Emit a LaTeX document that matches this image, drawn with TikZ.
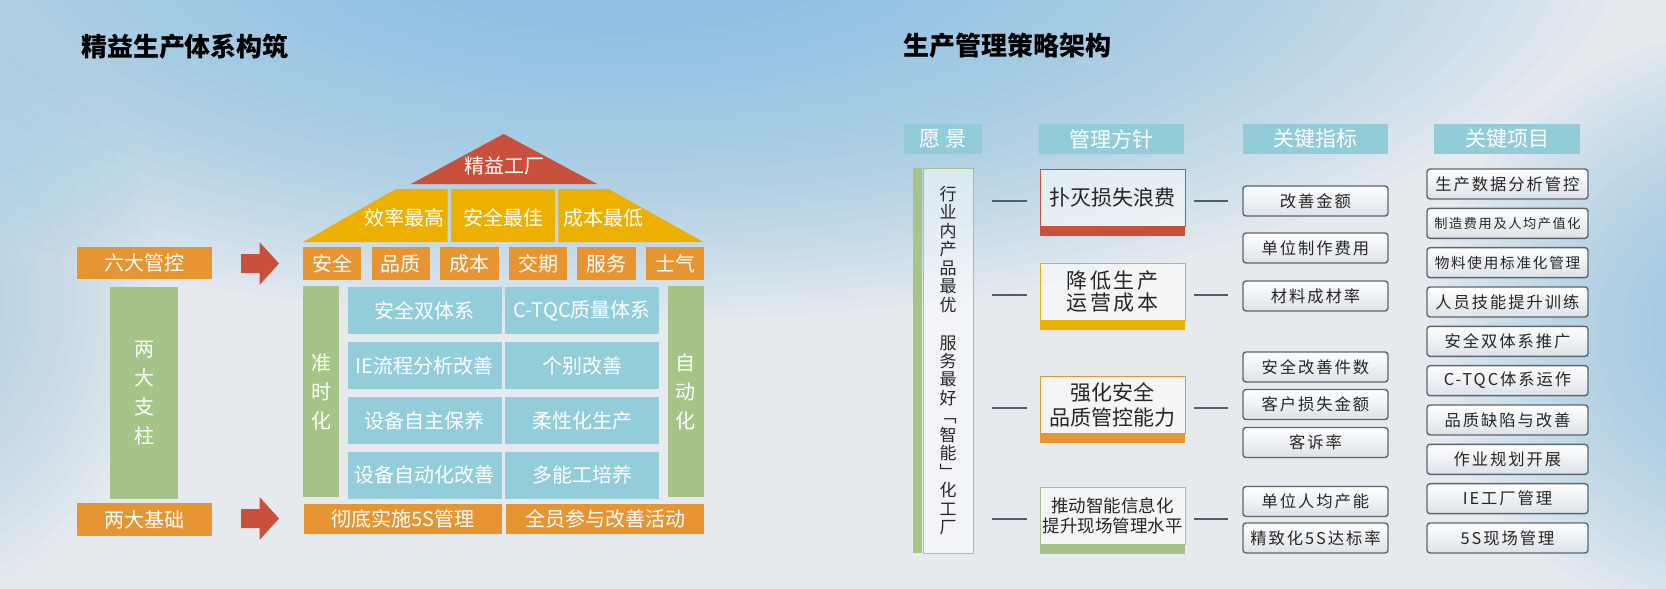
\documentclass[tikz,border=0pt]{standalone}
\usepackage{fontspec}
\setmainfont{Noto Sans CJK SC}
\newfontfamily\spacedcjk[LetterSpace=12]{Noto Sans CJK SC}
\usetikzlibrary{positioning}

\newdimen\upx
\upx=0.5pt

\definecolor{bgbase}{HTML}{E6EAEF}
\definecolor{skyglow}{HTML}{79BBE4}
\definecolor{roofred}{HTML}{C9503A}
\definecolor{roofgold}{HTML}{EEB000}
\definecolor{boxorange}{HTML}{E69532}
\definecolor{leafgreen}{HTML}{A6C487}
\definecolor{skyteal}{HTML}{93CDDA}
\definecolor{headteal}{HTML}{92CCD8}
\definecolor{linkgray}{HTML}{4F5F66}
\definecolor{framegray}{HTML}{5B666E}
\definecolor{metricbot}{HTML}{DDE2E8}
\definecolor{inktext}{HTML}{262626}

\newcommand\housefont{\fontsize{10}{14.5}\selectfont}
\newcommand\titlefont{\bfseries\fontsize{13}{15}\selectfont}
\newcommand\headfont{\fontsize{10.5}{12}\selectfont}
\newcommand\policyfont{\fontsize{10.5}{12.5}\selectfont}
\newcommand\visionfont{\fontsize{8.5}{9.25}\selectfont}
\newcommand\metricfont{\spacedcjk\fontsize{8.15}{9.5}\selectfont}
\newcommand\projsmallfont{\spacedcjk\fontsize{6.6}{8}\selectfont}
\newcommand\projmidfont{\spacedcjk\fontsize{7.3}{8.5}\selectfont}

\tikzset{
    base/.style={inner sep=0pt, align=center, text=white, font=\housefont},
    orangebox/.style={base, fill=boxorange, minimum height=32\upx},
    pillar/.style={base, fill=leafgreen, minimum width=36\upx, minimum height=211\upx},
    bluebox/.style={base, fill=skyteal, minimum width=154\upx, minimum height=47\upx},
    header/.style={fill=headteal, text=white, font=\headfont, minimum width=145\upx, minimum height=30\upx, inner sep=0pt},
    policy/.style={draw=#1, line width=0.5pt, fill=white, fill opacity=0.55, text opacity=1, text=inktext, font=\policyfont, align=center, minimum width=145\upx, minimum height=57\upx, inner sep=0pt},
    band/.style={fill=#1, minimum width=145\upx, minimum height=9.5\upx, inner sep=0pt},
    metric/.style={draw=framegray, line width=0.7pt, rounded corners=1.5pt, top color=white, bottom color=metricbot, text=inktext, font=\metricfont, minimum width=145\upx, minimum height=30\upx, inner sep=0pt},
    project/.style={metric, minimum width=161\upx},
    link/.style={draw=linkgray, line width=2\upx}
}

\begin{document}
\begin{tikzpicture}[x=0.5pt, y=-0.5pt]
    \useasboundingbox (0,0) rectangle (1666,589);
    \begin{scope}
        \clip (0,0) rectangle (1666,589);
        \fill[bgbase] (0,0) rectangle (1666,589);
        \foreach \k in {1,...,36}
            \fill[skyglow, opacity=0.045] (620,-60) ellipse ({27.78*\k} and {10.56*\k});
        \foreach \k in {1,...,20}
            \fill[skyglow, opacity=0.03] (-80,300) ellipse ({12*\k} and {15*\k});
        \foreach \k in {1,...,24}
            \fill[skyglow, opacity=0.045] (1760,330) ellipse ({13.75*\k} and {12.5*\k});
    \end{scope}

    % left: house
    \node[font=\titlefont, text=black] (lefttitle) at (185,47) {精益生产体系构筑};

    \fill[roofred] (503.7,134) -- (597,184) -- (411,184) -- cycle;
    \node[base] (roof) at (504,166) {精益工厂};
    \fill[roofgold] (303,242) -- (395.8,189) -- (447.7,189) -- (447.7,242) -- cycle;
    \fill[roofgold] (451.4,189) rectangle (554.7,242);
    \fill[roofgold] (558.4,189) -- (608.4,189) -- (703.5,242) -- (558.4,242) -- cycle;
    \node[base] (eff) at (404,218) {效率最高};
    \node[base] (safe) at (503,218) {安全最佳};
    \node[base] (cost) at (603,218) {成本最低};

    \foreach \txt [count=\i] in {安全,品质,成本,交期,服务,士气}
        \node[orangebox, minimum width=58.5\upx, minimum height=33\upx] (goal\i) at ({263.6+68.6*\i},263.5) {\txt};

    \node[pillar] (jit) at (321,391.5) {准\\时\\化};
    \node[pillar] (jidoka) at (685.8,391.5) {自\\动\\化};

    \node[bluebox] (b11) at (424.5,310.5) {安全双体系};
    \node[bluebox] (b12) at (582.2,310.5) {C-TQC质量体系};
    \node[bluebox] (b21) at (424.5,365.5) {IE流程分析改善};
    \node[bluebox] (b22) at (582.2,365.5) {个别改善};
    \node[bluebox] (b31) at (424.5,420.5) {设备自主保养};
    \node[bluebox] (b32) at (582.2,420.5) {柔性化生产};
    \node[bluebox] (b41) at (424.5,475) {设备自动化改善};
    \node[bluebox] (b42) at (582.2,475) {多能工培养};

    \node[orangebox, minimum width=198\upx, minimum height=30\upx] (base5s) at (403,519) {彻底实施5S管理};
    \node[orangebox, minimum width=197.5\upx, minimum height=30\upx] (baseall) at (605.2,519) {全员参与改善活动};

    \node[orangebox, minimum width=134.6\upx] (six) at (144.4,263) {六大管控};
    \node[pillar, minimum width=68\upx, minimum height=212\upx] (twopillar) at (144.2,393) {两\\大\\支\\柱};
    \node[orangebox, minimum width=134.6\upx, minimum height=33\upx] (twobase) at (144.4,519.5) {两大基础};

    \coordinate (arr1) at (241,263.5);
    \coordinate (arr2) at (241,518.5);
    \fill[roofred] (arr1) ++(0,-9.5) -- ++(18.5,0) -- ++(0,-12) -- ++(19.5,21.5) -- ++(-19.5,21.5) -- ++(0,-12) -- ++(-18.5,0) -- cycle;
    \fill[roofred] (arr2) ++(0,-9.5) -- ++(18.5,0) -- ++(0,-12) -- ++(19.5,21.5) -- ++(-19.5,21.5) -- ++(0,-12) -- ++(-18.5,0) -- cycle;

    % right: strategy
    \node[font=\titlefont, text=black] (righttitle) at (1007.5,46) {生产管理策略架构};

    \node[header, minimum width=78\upx] (hvision) at (943,139) {愿\ 景};
    \node[header] (hpolicy) at (1111.5,139) {管理方针};
    \node[header] (hmetric) at (1315.5,139) {关键指标};
    \node[header, minimum width=146\upx] (hproject) at (1507,139) {关键项目};

    \node[draw=leafgreen, line width=0.5pt, fill=white, fill opacity=0.5, text opacity=1, text=inktext, font=\visionfont, align=center, inner sep=0pt, minimum width=50\upx, minimum height=385\upx] (vision) at (948,360.5)
        {行\\业\\内\\产\\品\\最\\优\\[9.75pt]服\\务\\最\\好\\﹁\\智\\能\\﹂\\化\\工\\厂};
    \node[fill=leafgreen, inner sep=0pt, minimum width=9\upx, minimum height=385\upx, left=0pt of vision] (visionbar) {};

    \node[policy=roofred] (pol1) at (1112.5,197.5) {扑灭损失浪费};
    \node[band=roofred, below=0pt of pol1] (pol1band) {};
    \node[policy=roofgold, font=\spacedcjk\fontsize{10.5}{11}\selectfont] (pol2) at (1112.5,291.5) {降低生产\\运营成本};
    \node[band=roofgold, below=0pt of pol2] (pol2band) {};
    \node[policy=boxorange] (pol3) at (1112.5,404.5) {强化安全\\品质管控能力};
    \node[band=boxorange, below=0pt of pol3] (pol3band) {};
    \node[policy=leafgreen, font=\fontsize{8.75}{10}\selectfont] (pol4) at (1112.5,515.5) {推动智能信息化\\提升现场管理水平};
    \node[band=leafgreen, below=0pt of pol4] (pol4band) {};

    \node[metric] (ind1) at (1315.5,201) {改善金额};
    \node[metric] (ind2) at (1315.5,248) {单位制作费用};
    \node[metric] (ind3) at (1315.5,296) {材料成材率};
    \node[metric] (ind4) at (1315.5,367) {安全改善件数};
    \node[metric] (ind5) at (1315.5,404.5) {客户损失金额};
    \node[metric] (ind6) at (1315.5,442.5) {客诉率};
    \node[metric] (ind7) at (1315.5,501.5) {单位人均产能};
    \node[metric] (ind8) at (1315.5,538) {精致化5S达标率};

    \foreach \txt/\fnt [count=\i from 0] in {生产数据分析管控/\metricfont, 制造费用及人均产值化/\projsmallfont, 物料使用标准化管理/\projmidfont, 人员技能提升训练/\metricfont, 安全双体系推广/\metricfont, C-TQC体系运作/\metricfont, 品质缺陷与改善/\metricfont, 作业规划开展/\metricfont, IE工厂管理/\metricfont, 5S现场管理/\metricfont}
        \node[project, font=\fnt] (proj\i) at (1507.5,{184+39.33*\i}) {\txt};

    \foreach \p in {1,...,4} {
        \coordinate (tieL\p) at ([yshift=-3\upx]pol\p.west);
        \coordinate (tieR\p) at ([yshift=-3\upx]pol\p.east);
        \draw[link, shorten <=18\upx, shorten >=13\upx] (vision.east |- tieL\p) -- (tieL\p);
        \draw[link, shorten <=8\upx, shorten >=14\upx] (tieR\p) -- (tieR\p -| ind1.west);
    }
\end{tikzpicture}
\end{document}
